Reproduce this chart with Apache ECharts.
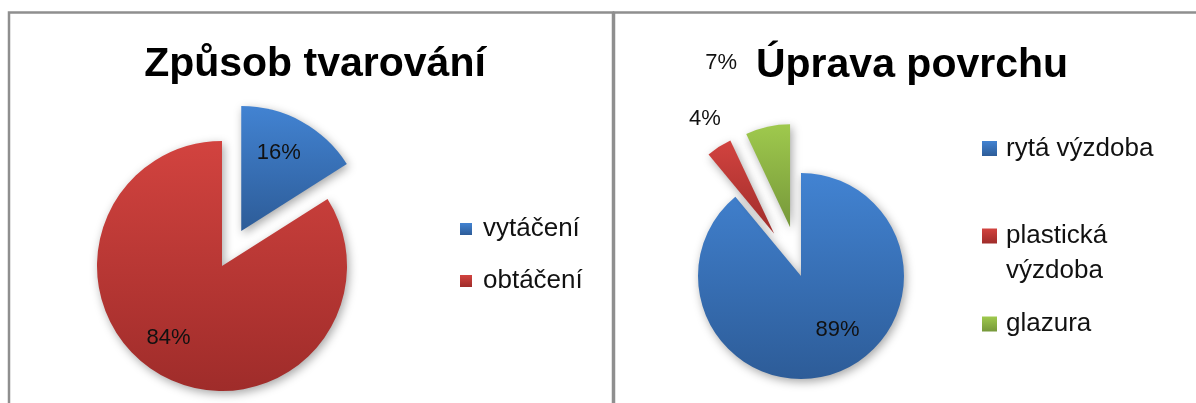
<!DOCTYPE html>
<html>
<head>
<meta charset="utf-8">
<script src="https://cdn.jsdelivr.net/npm/echarts@6/dist/echarts.min.js"></script>
<style>
  html, body { margin: 0; padding: 0; background: #fff; }
  #chart { width: 1196px; height: 403px; }
</style>
</head>
<body>
<div id="chart"></div>
<script>
// data
const leftTitle = 'Způsob tvarování';
const leftNames = ['vytáčení', 'obtáčení'];
const leftValues = [16, 84];
const leftExploded = [true, false];

const rightTitle = 'Úprava povrchu';
const rightNames = ['rytá výzdoba', 'plastická výzdoba', 'glazura'];
const rightValues = [89, 4, 7];
const rightExploded = [false, true, true];

// Excel 2007 style gradients (top -> bottom)
const blue = ['#4283d2', '#2d5c98'];
const red = ['#d2433f', '#9f2c2a'];
const green = ['#9fc94d', '#76983a'];

const FONT = '"Liberation Sans", Arial, sans-serif';

function grad(c) {
  return new echarts.graphic.LinearGradient(0, 0, 0, 1, [
    { offset: 0, color: c[0] },
    { offset: 1, color: c[1] }
  ]);
}

// label nudges from the default inside position
const leftShift = [[6, -21], [-22, 15]];
const rightShift = [[18, 3], [-40, -69], [-57, -111]];

function buildData(names, values, exploded, colors) {
  return names.map((n, i) => ({
    name: n,
    value: values[i],
    selected: exploded[i],
    itemStyle: { color: grad(colors[i]) }
  }));
}

const chart = echarts.init(document.getElementById('chart'), null, { renderer: 'canvas' });

const sliceStyle = {
  borderWidth: 0,
  shadowBlur: 10,
  shadowColor: 'rgba(0,0,0,0.35)',
  shadowOffsetX: 2,
  shadowOffsetY: 3
};

const pctLabel = {
  show: true,
  position: 'inside',
  formatter: '{d}%',
  color: '#111',
  fontFamily: FONT,
  fontSize: 22
};

const legendText = {
  fontFamily: FONT,
  fontSize: 26,
  color: '#111'
};

// one right-hand legend entry
function rightLegend(i, top, fmt) {
  return {
    orient: 'vertical',
    left: 982,
    top: top,
    padding: 0,
    icon: 'rect',
    itemWidth: 15,
    itemHeight: 15,
    selectedMode: false,
    data: [rightNames[i]],
    formatter: fmt,
    textStyle: Object.assign({ lineHeight: 35, padding: [0, 0, 0, 4] }, legendText)
  };
}

chart.setOption({
  animation: false,
  graphic: [
    {
      type: 'rect',
      shape: { x: 9, y: 12.5, width: 604, height: 420 },
      style: { fill: 'none', stroke: '#8f8f8f', lineWidth: 2.5 },
      z: -1
    },
    {
      type: 'rect',
      shape: { x: 614, y: 12.5, width: 620, height: 420 },
      style: { fill: 'none', stroke: '#8f8f8f', lineWidth: 2.5 },
      z: -1
    }
  ],
  title: [
    {
      text: leftTitle,
      left: 310,
      top: 39,
      textAlign: 'center',
      textStyle: { fontFamily: FONT, fontSize: 41, fontWeight: 'bold', color: '#000' }
    },
    {
      text: rightTitle,
      left: 907,
      top: 40,
      textAlign: 'center',
      textStyle: { fontFamily: FONT, fontSize: 41, fontWeight: 'bold', color: '#000' }
    }
  ],
  legend: [
    {
      orient: 'vertical',
      left: 460,
      top: 216,
      padding: 0,
      icon: 'rect',
      itemWidth: 12,
      itemHeight: 12,
      itemGap: 26,
      selectedMode: false,
      data: leftNames,
      textStyle: Object.assign({ lineHeight: 26, padding: [0, 0, 0, 6] }, legendText)
    },
    rightLegend(0, 131),
    // blank first line keeps the square level with "plastická"
    rightLegend(1, 183.5, (name) => '\n' + name.replace(' ', '\n')),
    rightLegend(2, 306.5)
  ],
  series: [
    {
      type: 'pie',
      center: [222, 266],
      radius: 125,
      startAngle: 90,
      clockwise: true,
      selectedMode: 'multiple',
      selectedOffset: 40,
      percentPrecision: 0,
      itemStyle: sliceStyle,
      label: pctLabel,
      labelLine: { show: false },
      labelLayout: (p) => ({ dx: leftShift[p.dataIndex][0], dy: leftShift[p.dataIndex][1] }),
      emphasis: { disabled: true },
      data: buildData(leftNames, leftValues, leftExploded, [blue, red])
    },
    {
      type: 'pie',
      center: [801, 276],
      radius: 103,
      startAngle: 90,
      clockwise: true,
      selectedMode: 'multiple',
      selectedOffset: 50,
      percentPrecision: 0,
      itemStyle: sliceStyle,
      label: pctLabel,
      labelLine: { show: false },
      labelLayout: (p) => ({ dx: rightShift[p.dataIndex][0], dy: rightShift[p.dataIndex][1] }),
      emphasis: { disabled: true },
      data: buildData(rightNames, rightValues, rightExploded, [blue, red, green])
    }
  ]
});
</script>
</body>
</html>
